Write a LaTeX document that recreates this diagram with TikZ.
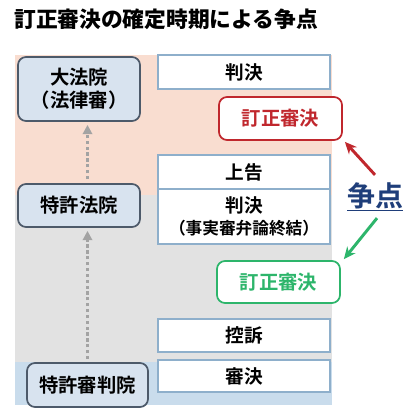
\documentclass[tikz,border=0pt]{standalone}
\usepackage{fontspec}
\setmainfont{Noto Sans CJK JP}[BoldFont={Noto Sans CJK JP Bold}]
\newfontfamily\titlefont{Noto Sans CJK JP Black}
\usetikzlibrary{arrows.meta,calc}
\definecolor{peach}{HTML}{F9DDD0}
\definecolor{bggray}{HTML}{E2E2E2}
\definecolor{bgblue}{HTML}{C9DCEC}
\definecolor{courtfill}{HTML}{D8E3EF}
\definecolor{courtline}{HTML}{4D5A6A}
\definecolor{stepline}{HTML}{8EAFCB}
\definecolor{redc}{HTML}{C0272D}
\definecolor{greenc}{HTML}{2DB56B}
\definecolor{bluec}{HTML}{1F3E7A}
\definecolor{dotgray}{HTML}{A3A3A3}
\tikzset{
  court/.style={draw=courtline, fill=courtfill, line width=1.3pt, rounded corners=6pt,
    font=\bfseries\fontsize{14.5}{17}\selectfont, align=center, inner sep=0pt},
  stepbox/.style={draw=stepline, fill=white, line width=0.9pt, minimum width=172*0.75pt,
    font=\bfseries\fontsize{14}{16}\selectfont, align=center, inner sep=0pt},
  corr/.style={draw=#1, fill=white, line width=1.3pt, rounded corners=6pt, text=#1,
    minimum width=123*0.75pt, font=\bfseries\fontsize{14.5}{17}\selectfont, inner sep=0pt},
  uparrow/.style={draw=dotgray, line width=2.4pt, dotted, -{Triangle[length=7pt,width=7pt,fill=dotgray]}},
  ptarrow/.style={draw=#1, line width=2.2pt, -{Stealth[length=9pt,width=8pt]}}
}
\begin{document}
\begin{tikzpicture}[x=0.75pt,y=-0.75pt]
\useasboundingbox (0,0) rectangle (417,409);
\fill[white] (0,0) rectangle (417,409);
% title
\node[anchor=west, inner sep=0pt, font=\titlefont\fontsize{16.3}{19}\selectfont] (title) at (14,19) {訂正審決の確定時期による争点};
% background bands
\fill[peach] (15,55) rectangle (332,195);
\fill[bggray] (15,195) rectangle (332,362);
\fill[bgblue] (15,362) rectangle (332,405);
% courts
\node[court, minimum width=122*0.75pt, minimum height=64*0.75pt] (daihoin) at (79,89) {大法院\\（法律審）};
\node[court, minimum width=122*0.75pt, minimum height=43*0.75pt] (tokkyohoin) at (79,205.5) {特許法院};
\node[court, minimum width=121*0.75pt, minimum height=44*0.75pt] (shinpanin) at (87.5,385) {特許審判院};
% dotted arrows
\draw[uparrow] ($(shinpanin.north)+(0,-3)$) -- ($(shinpanin.north |- tokkyohoin.south)+(0,3)$);
\draw[uparrow] ($(shinpanin.north |- tokkyohoin.north)+(0,-4)$) -- ($(shinpanin.north |- daihoin.south)+(0,3)$);
% steps
\node[stepbox, minimum height=34*0.75pt] (hanketsuA) at (244,72) {判決};
\node[stepbox, minimum height=34*0.75pt] (jokoku) at (244,172) {上告};
\node[stepbox, minimum height=55*0.75pt] (hanketsuB) at (244,216.5) {判決\\{\fontsize{12.5}{15}\selectfont（事実審弁論終結）}};
\node[stepbox, minimum height=33*0.75pt] (koso) at (244,335.5) {控訴};
\node[stepbox, minimum height=32*0.75pt] (shinketsu) at (244,376) {審決};
% correction decisions
\node[corr=redc, minimum height=43*0.75pt] (redbox) at (280.5,118.5) {訂正審決};
\node[corr=greenc, minimum height=42*0.75pt] (greenbox) at (278.5,282) {訂正審決};
% issue
\node[text=bluec, font=\bfseries\fontsize{21}{25}\selectfont, inner sep=1pt] (soten) at (375,197) {\underline{争点}};
\draw[ptarrow=redc] ($(soten.north)+(0,-6)$) -- ($(redbox.south east)+(2,1)$);
\draw[ptarrow=greenc] ($(soten.south)+(2,5)$) -- ($(greenbox.north east)+(3,-1)$);
\end{tikzpicture}
\end{document}
